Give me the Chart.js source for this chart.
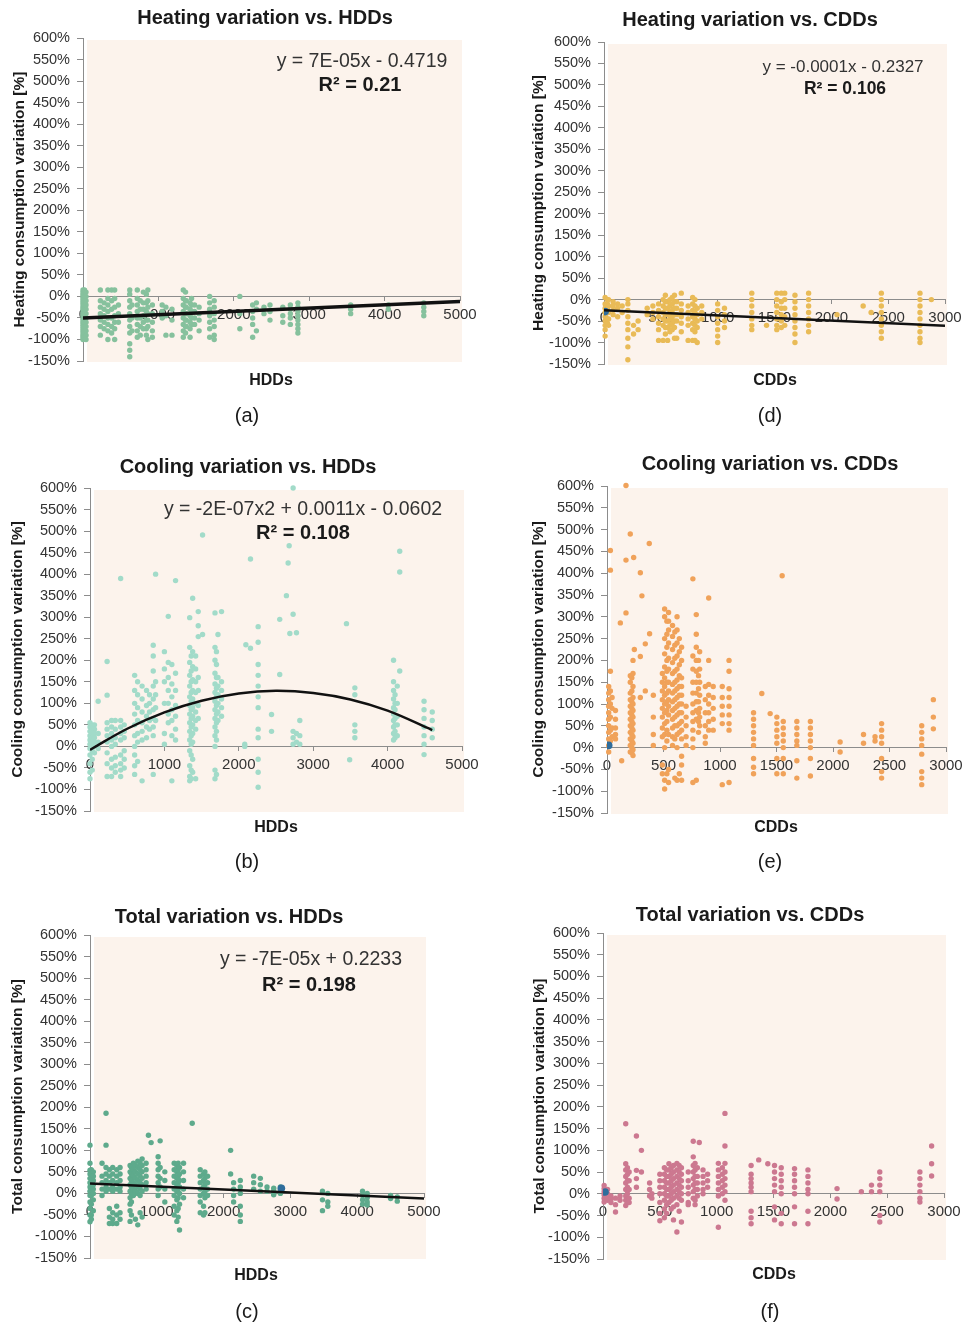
<!DOCTYPE html>
<html>
<head>
<meta charset="utf-8">
<script src="https://cdn.jsdelivr.net/npm/chart.js@4.4.1/dist/chart.umd.min.js"></script>
<style>
  body { margin: 0; background: #fff; width: 968px; height: 1326px; position: relative; overflow: hidden; }
  canvas { position: absolute; }
</style>
</head>
<body>
<script>
// Axis ticks
const pctTicks = [-150, -100, -50, 0, 50, 100, 150, 200, 250, 300, 350, 400, 450, 500, 550, 600];
const hddTicks = [0, 1000, 2000, 3000, 4000, 5000];
const cddTicks = [0, 500, 1000, 1500, 2000, 2500, 3000];

// (a) Heating variation vs. HDDs  -- each x has a column of y values [%]
const heatHddX = [0, 20, 40, 230, 280, 330, 380, 420, 470, 620, 650, 720, 760, 800, 840, 860, 920, 1050, 1100, 1180, 1330, 1360, 1370, 1420, 1440, 1480, 1540, 1680, 1740, 2080, 2250, 2300, 2400, 2480, 2650, 2750, 2850, 3550, 4050, 4520];
const heatHddY = [
  [15, 10, 5, 0, -5, -10, -15, -20, -25, -30, -35, -40, -45, -50, -55, -60, -65, -70, -75, -80, -85, -90, -95, -100],
  [15, 0, -20, -40, -60, -80, -95],
  [10, 0, -10, -20, -30, -40, -50, -60, -70, -80, -90, -100],
  [15, -10, -25, -40, -55, -70, -90],
  [-15, -30, -45, -60, -75],
  [15, -5, -20, -35, -50, -65, -80, -100],
  [15, -10, -30, -50, -70, -85],
  [15, -5, -25, -45, -60, -75, -100],
  [-20, -40, -60],
  [15, 5, -10, -25, -40, -55, -70, -85, -110, -125, -140],
  [-20, -50, -80],
  [15, -5, -20, -35, -50, -65, -80, -95],
  [-10, -30, -50, -70, -90],
  [10, -15, -30, -45, -60, -75],
  [5, -15, -35, -55, -75, -90],
  [15, -10, -25, -40, -55, -70, -100],
  [-20, -40, -60, -80, -95],
  [-20, -35, -50],
  [-25, -45, -90],
  [-30, -55, -90],
  [15, -5, -20, -35, -50, -65, -80, -95],
  [10, -10, -25, -40, -55, -70, -85],
  [-10, -25, -40, -55, -70],
  [-15, -30, -45, -60, -75, -95],
  [-5, -20, -35, -50, -65],
  [-20, -35, -50, -65],
  [-25, -40, -55, -80],
  [0, -15, -30, -45, -60, -75, -95],
  [-10, -25, -40, -55, -70, -90, -100],
  [0, -40, -75],
  [-20, -35, -50, -65, -95],
  [-15, -30, -80],
  [-25, -40],
  [-20, -35, -55],
  [-25, -45, -60],
  [-20, -30, -40, -50, -65],
  [-15, -25, -35, -45, -55, -65, -75, -85],
  [-20, -30, -40],
  [-20, -30],
  [-15, -25, -35, -45]
];
const heatHddFitX = [0, 5000];
const heatHddFitY = [-50, -12];

// (d) Heating variation vs. CDDs
const heatCddX = [10, 30, 40, 80, 120, 160, 210, 260, 300, 380, 430, 480, 520, 540, 560, 580, 600, 620, 640, 680, 740, 780, 800, 820, 860, 1000, 1060, 1300, 1430, 1520, 1560, 1590, 1680, 1800, 2050, 2280, 2350, 2440, 2780, 2880];
const heatCddY = [
  [5, -10, -20, -30, -40, -50, -60, -70, -85],
  [0, -10, -20, -30, -45, -55],
  [0, -15, -30, -45, -60],
  [-5, -15, -25, -35],
  [-10, -20, -40],
  [-15, -30],
  [0, -10, -25, -40, -55, -70, -90, -110, -140],
  [-60, -80],
  [-50, -70],
  [-20, -35],
  [-15, -30, -45],
  [-10, -25, -40, -55, -70, -95],
  [0, -15, -30, -45, -60, -95],
  [10, -5, -20, -35, -50, -65, -80],
  [-5, -20, -35, -50, -65, -95],
  [0, -15, -30, -45, -60, -75],
  [5, -10, -25, -40, -55, -70],
  [10, -5, -20, -35, -50, -65, -90],
  [-5, -20, -35, -50, -90],
  [15, -10, -25, -40, -55, -75],
  [-15, -30, -45, -60, -95],
  [5, -10, -25, -40, -55, -70, -95],
  [0, -15, -30, -45, -60, -75, -95],
  [-20, -35, -50, -65, -100],
  [-15, -30, -45],
  [-10, -25, -40, -55, -70, -85, -100],
  [-20, -35, -50, -65],
  [15, 0, -15, -30, -45, -60, -70],
  [-60],
  [15, 0, -15, -30, -45, -60, -70],
  [15, -5, -20, -35, -50, -65],
  [15, 0, -20, -40, -60],
  [10, -5, -20, -35, -50, -65, -80, -100],
  [15, 0, -15, -30, -45, -60, -75],
  [-35],
  [-15],
  [-30],
  [15, 0, -15, -30, -45, -60, -75, -90],
  [15, 0, -15, -30, -45, -60, -75, -90, -100],
  [0]
];
const heatCddMarkX = [10];
const heatCddMarkY = [-28];
const heatCddFitX = [0, 3000];
const heatCddFitY = [-25, -61];

// (b) Cooling variation vs. HDDs
const coolHddX = [0, 30, 60, 110, 230, 290, 340, 412, 460, 600, 640, 700, 760, 800, 850, 882, 1000, 1052, 1100, 1150, 1340, 1360, 1380, 1420, 1455, 1513, 1680, 1700, 1720, 1768, 2080, 2095, 2157, 2260, 2440, 2550, 2640, 2663, 2677, 2686, 2730, 2775, 2820, 3447, 3490, 3560, 4080, 4100, 4130, 4163, 4490, 4600];
const coolHddY = [
  [55, 45, 35, 25, 15, 5, -5, -20, -40, -60, -75],
  [50, 40, 30, 20, 10, 0, -10, -30, -55],
  [50, 40, 30, 20, 10, 0, -15],
  [105, 30, 10, -5],
  [197, 119, 55, 40, 25, 10, -15, -40, -70],
  [60, 45, 30, 15, 0, -30, -50, -70],
  [60, 40, 20, 5, -25, -45, -60],
  [390, 60, 45, 30, 15, -20, -40, -55, -70],
  [50, 35, 20, -10, -30, -50],
  [165, 130, 100, 75, 50, 25, 0, -20, -45, -65],
  [150, 120, 90, 60, 30, 10, -35],
  [140, 110, 80, 55, 35, 15, -80],
  [130, 95, 70, 45, 20],
  [120, 100, 80, 60, 40],
  [235, 210, 175, 140, 110, 85, 65, 45, 25, -65],
  [400, 150, 120, 90, 60],
  [220, 180, 150, 100, 30, 5],
  [302, 195, 160, 130, 100, 75, 55],
  [190, 145, 115, 85, 60, 25, -80],
  [385, 170, 130, 95, 70, 40, 15],
  [299, 230, 195, 165, 140, 115, 95, 75, 55, 35, 15, -10, -45, -70, -80],
  [210, 175, 150, 125, 105, 85, 65, 45, 25, 5, -20, -55, -75],
  [344, 220, 185, 155, 130, 110, 90, 70, 50, 30, 10, -30, -60],
  [210, 180, 150, 125, 100, 80, 60, 40, -75],
  [313, 280, 255, 160, 130, 95, 65],
  [491, 260],
  [310, 230, 200, 170, 145, 125, 105, 85, 65, 45, 25, 0, -55, -75],
  [220, 190, 160, 135, 115, 95, 75, 55, 35, 15, -65],
  [260, 160, 140, 120, 100, 80, 60],
  [313, 150, 130, 110, 90, 70],
  [5, 0],
  [236],
  [435, 228],
  [278, 242, 190, 165, 140, 115, 90, 40, 20, -30, -60, -95],
  [74, 35],
  [295, 167],
  [350],
  [426],
  [466],
  [262],
  [600, 307, 35, 20, 5],
  [264, 30, 10],
  [60, 25, 5],
  [285],
  [-31],
  [136, 120, 50, 35, 20],
  [200, 150, 130, 110, 90, 75, 60, 45, 30, 15],
  [120, 100, 85, 65, 50, 35, 20],
  [140, 100, 70, 50, 25],
  [453, 405, 175],
  [105, 85, 65, 45, 25, 5, -19],
  [80, 60, 40, 20]
];
const coolHddFitX = [0, 500, 1000, 1500, 2000, 2500, 3000, 3500, 4000, 4600];
const coolHddFitY = [-8, 41, 79, 106, 123, 129, 124, 109, 83, 38];

// (e) Cooling variation vs. CDDs
const coolCddX = [15, 30, 45, 75, 118, 130, 168, 206, 220, 230, 236, 242, 295, 309, 339, 374, 377, 410, 490, 510, 530, 545, 580, 600, 620, 640, 660, 700, 760, 790, 810, 820, 870, 900, 940, 1020, 1080, 1297, 1370, 1444, 1503, 1550, 1560, 1680, 1800, 2063, 2270, 2372, 2430, 2785, 2888];
const coolCddY = [
  [140, 125, 110, 95, 80, 65, 50, 35, 20, 5, -10],
  [452, 407, 175, 130, 100, 70, 40, 15],
  [115, 90, 45, 25],
  [85, 65, 45, 30, 20],
  [286],
  [-30],
  [601, 430, 309],
  [490, 165, 150, 125, 110, 95, 80, 65, 50, 35, 20, 5, -10],
  [160, 130, 105, 90, 75, 60, 45, 30, 15, 0, -12],
  [200, 170, 140, 115, 100, 85, 70, 55, 40, 25, 10, -5, -18],
  [436],
  [225],
  [401, 209, 115],
  [348],
  [238, 130],
  [468],
  [261],
  [120, 70, 30, 5],
  [170, 150, 130, 110, 90, 70, 45, 25, -40, -60],
  [318, 300, 250, 215, 185, 160, 140, 120, 100, 80, 55, 30, 0, -75, -95],
  [290, 260, 230, 200, 175, 150, 125, 105, 85, 60, 40, 15, -60],
  [310, 290, 270, 240, 205, 180, 150, 130, 110, 95, 75, 30, -50, -80],
  [280, 255, 225, 195, 170, 145, 125, 105, 85, 65, 45, 25, 5],
  [265, 235, 205, 175, 150, 130, 110, 90, 70, 50, 20, -70],
  [300, 270, 240, 210, 180, 155, 135, 115, 95, 75, 50, 30, 0, -75],
  [250, 220, 190, 165, 140, 120, 100, 80, 55, 35, -60],
  [230, 200, 160, 140, 120, 100, 80, 60, 40, 20, -20, -40, -75],
  [95, 70, 50, 25, 5],
  [387, 210, 180, 150, 125, 100, 80, 60, 40, 20, 0, -80],
  [305, 260, 230, 200, 175, 150, 125, 105, 85, 65, -75],
  [200, 165, 135, 105, 80, 60, 35],
  [220, 180, 150, 120, 90, 70, 50],
  [140, 110, 80, 50, 25, 10],
  [343, 200, 145, 120, 100, 80, 60, 40],
  [140, 115, 90, 65, 40],
  [140, 115, 95, 75, 55, -85],
  [200, 175, 135, 115, 95, 75, 55, 40, -80],
  [80, 65, 50, 35, 20, 5, -25, -45, -60],
  [124],
  [78],
  [70, 55, 40, 25, 10, -25, -60],
  [394],
  [60, 45, 30, 15, 0, -25, -60],
  [60, 45, 30, 15, 5, -30, -70],
  [60, 45, 30, 15, 0, -25, -65],
  [13, -10],
  [30, 10],
  [25, 15],
  [55, 40, 25, 10, -25, -55, -70],
  [50, 35, 20, 5, -15, -55, -70, -85],
  [110, 70, 43]
];
const coolCddMarkX = [15];
const coolCddMarkY = [5];

// (c) Total variation vs. HDDs
const totHddX = [0, 20, 50, 180, 240, 290, 340, 400, 450, 600, 620, 650, 680, 715, 750, 780, 840, 875, 915, 1020, 1050, 1120, 1260, 1300, 1320, 1340, 1400, 1530, 1650, 1700, 1720, 1760, 2105, 2150, 2250, 2450, 2550, 2650, 2750, 2850, 3480, 3560, 4080, 4150, 4500, 4600];
const totHddY = [
  [112, 70, 54, 45, 35, 25, 15, 5, -5, -20, -35, -50, -66],
  [55, 45, 35, 25, 15, 5, -5, -25, -50, -60],
  [50, 40, 30, 20, 10, 0, -15, -40],
  [70, 40, 25, 10, -5],
  [186, 112, 60, 45, 30, 15, 5],
  [55, 40, 25, 10, -35, -55, -70],
  [60, 45, 30, 15, 5, -45, -60, -70],
  [55, 40, 25, 10, -30, -50, -70],
  [60, 45, 30, 15, 5, -45, -60],
  [65, 50, 35, 20, 5, -10, -25, -40, -65],
  [60, 45, 30, 15, 0, -20, -50],
  [70, 55, 40, 25, 10, -5],
  [65, 50, 35, 20, 5, -60],
  [75, 60, 45, 30, 15, 0, -73],
  [70, 55, 40, 25, 10, -5, -45],
  [80, 65, 50, 35, 20, 5, -55],
  [70, 55, 40, 25, 10],
  [135],
  [118],
  [85, 70, 55, 40, 25, 10, -5],
  [122, 60, 35, 15],
  [50, 30, 10, -20],
  [70, 55, 40, 25, 10, -5, -30, -50],
  [65, 50, 35, 20, 5, -15, -40, -65],
  [70, 55, 40, 25, 10, -10, -35, -55],
  [60, 45, 30, 15, 0, -25, -85],
  [70, 50, 30, 10, -10],
  [163],
  [55, 40, 25, 10, -5, -20, -45],
  [45, 30, 15, 0, -30, -50],
  [50, 35, 20, 5, -10, -45],
  [40, 25, 10, -5],
  [100, 45],
  [25, 10, -5, -20],
  [30, 15, 0, -30, -50, -65],
  [40, 25, 10],
  [35, 20, 5],
  [15, 5],
  [12, 5, 0, -3],
  [15, 8, 0],
  [5, -15, -40],
  [0, -20, -30],
  [5, -5, -15, -25],
  [0, -10, -20, -27],
  [-5, -12],
  [-8, -18]
];
const totHddMarkX = [2865];
const totHddMarkY = [12];
const totHddFitX = [0, 5000];
const totHddFitY = [23, -12];

// (f) Total variation vs. CDDs
const totCddX = [10, 40, 70, 110, 150, 200, 215, 230, 294, 338, 410, 430, 500, 540, 560, 580, 600, 620, 650, 670, 690, 750, 794, 810, 830, 847, 880, 920, 1015, 1050, 1073, 1303, 1370, 1450, 1509, 1568, 1685, 1803, 2059, 2273, 2362, 2435, 2788, 2891];
const totCddY = [
  [19, 12, 5, -2, -10, -19],
  [10, 0, -8, -15],
  [-5, -12, -20],
  [-10, -25, -42],
  [-15, -5],
  [161, 69, 55, 40, 25, 10, -5, -15, -27],
  [60, 45, 30, 15, 0, -20],
  [50, 30, 10, -10, -20],
  [133, 54, 35, 15],
  [100, 50],
  [25, 10, -5],
  [0, -10],
  [45, 30, 15, 0, -20, -45, -62],
  [60, 45, 30, 15, 0, -15, -35, -55],
  [55, 40, 25, 10, -5, -25, -45],
  [69, 55, 40, 25, 10, -5, -20],
  [60, 45, 30, 15, 0, -15, -35],
  [65, 50, 35, 20, 5, -10, -30, -60],
  [70, 55, 40, 25, 10, -5, -25, -88],
  [65, 50, 35, 20, 5, -10, -40],
  [60, 45, 30, 15, 0, -15, -65],
  [50, 30, 15, 0, -20, -25],
  [121, 85, 65, 50, 35, 20, 5, -10],
  [70, 55, 40, 25, 10, -15, -25],
  [60, 40, 25, 10, -5],
  [118],
  [55, 40, 25, 10, 0],
  [45, 30, 15],
  [70, 55, 40, 25, 10, -5, -77],
  [60, 45, 30, 15, 0],
  [185, 110, 70, 50, 35, 20, 5, -15],
  [65, 45, 35, 25, 15, 5, -40, -55, -69],
  [78],
  [69],
  [65, 50, 35, 20, 5, -30, -60],
  [60, 45, 30, 15, 0, -45, -69],
  [58, 45, 30, 15, 0, -30, -69],
  [55, 40, 25, 10, 0, -40, -69],
  [12, -12],
  [5],
  [20, 5],
  [50, 35, 20, 5, -50, -65],
  [50, 35, 20, 5, -10, -19],
  [110, 69, 41]
];
const totCddMarkX = [18];
const totCddMarkY = [4];

const SANS = "'Liberation Sans', Arial, sans-serif";
const AXIS_GREY = '#8c8c8c';

function toPoints(xs, ys) {
  const pts = [];
  xs.forEach((x, i) => ys[i].forEach(y => pts.push({ x: x, y: y })));
  return pts;
}
function pairs(xs, ys) {
  return xs.map((x, i) => ({ x: x, y: ys[i] }));
}

// Panels: cell = [left, top, width, height] on the page; text positions are page coords
const panels = [
  { cell: [0, 0, 484, 440], pad: { left: 10, top: 38, right: 24, bottom: 79 }, yW: 73,
    title: 'Heating variation vs. HDDs', titleAt: [265, 18], yTitle: 'Heating consumption variation [%]',
    xTitle: 'HDDs', xTitleAt: [271, 381], caption: '(a)', captionAt: [247, 416],
    eq: ['y = 7E-05x - 0.4719', 'R\u00b2 = 0.21'], eqAt: [[362, 62], [360, 85]], eqSize: 19.5,
    xTicks: hddTicks, xs: heatHddX, ys: heatHddY, color: '#86c19d',
    fitX: heatHddFitX, fitY: heatHddFitY, fitWidth: 3.5, tension: 0 },
  { cell: [484, 0, 484, 440], pad: { left: 45, top: 42, right: 23, bottom: 76 }, yW: 75,
    title: 'Heating variation vs. CDDs', titleAt: [750, 20], yTitle: 'Heating consumption variation [%]',
    xTitle: 'CDDs', xTitleAt: [775, 381], caption: '(d)', captionAt: [770, 416],
    eq: ['y = -0.0001x - 0.2327', 'R\u00b2 = 0.106'], eqAt: [[843, 67], [845, 89]], eqSize: 17,
    xTicks: cddTicks, xs: heatCddX, ys: heatCddY, color: '#e9bb57',
    markX: heatCddMarkX, markY: heatCddMarkY,
    fitX: heatCddFitX, fitY: heatCddFitY, fitWidth: 2.5, tension: 0 },
  { cell: [0, 440, 484, 448], pad: { left: 8, top: 48, right: 22, bottom: 77 }, yW: 82,
    title: 'Cooling variation vs. HDDs', titleAt: [248, 467], yTitle: 'Cooling consumption variation [%]',
    xTitle: 'HDDs', xTitleAt: [276, 828], caption: '(b)', captionAt: [247, 862],
    eq: ['y = -2E-07x2 + 0.0011x - 0.0602', 'R\u00b2 = 0.108'], eqAt: [[303, 510], [303, 533]], eqSize: 19.5,
    xTicks: hddTicks, xs: coolHddX, ys: coolHddY, color: '#a2dbc9',
    fitX: coolHddFitX, fitY: coolHddFitY, fitWidth: 2.5, tension: 0.4 },
  { cell: [484, 440, 484, 448], pad: { left: 45, top: 46, right: 22, bottom: 75 }, yW: 78,
    title: 'Cooling variation vs. CDDs', titleAt: [770, 464], yTitle: 'Cooling consumption variation [%]',
    xTitle: 'CDDs', xTitleAt: [776, 828], caption: '(e)', captionAt: [770, 862],
    eq: null, xTicks: cddTicks, xs: coolCddX, ys: coolCddY, color: '#f0a25a',
    markX: coolCddMarkX, markY: coolCddMarkY },
  { cell: [0, 888, 484, 438], pad: { left: 8, top: 47, right: 60, bottom: 68 }, yW: 82,
    title: 'Total variation vs. HDDs', titleAt: [229, 917], yTitle: 'Total consumption variation [%]',
    xTitle: 'HDDs', xTitleAt: [256, 1276], caption: '(c)', captionAt: [247, 1312],
    eq: ['y = -7E-05x + 0.2233', 'R\u00b2 = 0.198'], eqAt: [[311, 960], [309, 985]], eqSize: 19.5,
    xTicks: hddTicks, xs: totHddX, ys: totHddY, color: '#5eaa8c',
    markX: totHddMarkX, markY: totHddMarkY,
    fitX: totHddFitX, fitY: totHddFitY, fitWidth: 2.5, tension: 0 },
  { cell: [484, 888, 484, 438], pad: { left: 46, top: 45, right: 24, bottom: 67 }, yW: 73,
    title: 'Total variation vs. CDDs', titleAt: [750, 915], yTitle: 'Total consumption variation [%]',
    xTitle: 'CDDs', xTitleAt: [774, 1275], caption: '(f)', captionAt: [770, 1312],
    eq: null, xTicks: cddTicks, xs: totCddX, ys: totCddY, color: '#cc7890',
    markX: totCddMarkX, markY: totCddMarkY }
];

// peach plot background
const plotBg = {
  id: 'plotBg',
  beforeDraw(chart) {
    const a = chart.chartArea, ctx = chart.ctx;
    ctx.save();
    ctx.fillStyle = '#fcf3ec';
    ctx.fillRect(a.left + 4, a.top + 2, a.right - a.left - 2, a.bottom - a.top - 1);
    ctx.restore();
  }
};

// titles, axis label, caption and the trend equation
const panelText = {
  id: 'panelText',
  afterDraw(chart, args, opts) {
    const p = opts.panel, ctx = chart.ctx;
    const ox = p.cell[0], oy = p.cell[1];
    ctx.save();
    ctx.textAlign = 'center';
    ctx.textBaseline = 'middle';
    ctx.fillStyle = '#1a1a1a';
    ctx.font = 'bold 20px ' + SANS;
    ctx.fillText(p.title, p.titleAt[0] - ox, p.titleAt[1] - oy);
    ctx.font = 'bold 16px ' + SANS;
    ctx.fillText(p.xTitle, p.xTitleAt[0] - ox, p.xTitleAt[1] - oy);
    ctx.font = '20px ' + SANS;
    ctx.fillText(p.caption, p.captionAt[0] - ox, p.captionAt[1] - oy);
    if (p.eq) {
      ctx.fillStyle = '#333';
      ctx.font = p.eqSize + 'px ' + SANS;
      ctx.fillText(p.eq[0], p.eqAt[0][0] - ox, p.eqAt[0][1] - oy);
      ctx.fillStyle = '#1a1a1a';
      ctx.font = 'bold ' + (p.eqSize + 0.5) + 'px ' + SANS;
      ctx.fillText(p.eq[1], p.eqAt[1][0] - ox, p.eqAt[1][1] - oy);
    }
    ctx.restore();
  }
};

function buildPanel(p) {
  const canvas = document.createElement('canvas');
  canvas.width = p.cell[2];
  canvas.height = p.cell[3];
  canvas.style.left = p.cell[0] + 'px';
  canvas.style.top = p.cell[1] + 'px';
  document.body.appendChild(canvas);

  const datasets = [];
  if (p.fitX) {
    datasets.push({
      label: 'trend', data: pairs(p.fitX, p.fitY), showLine: true,
      borderColor: '#111', borderWidth: p.fitWidth, pointRadius: 0, tension: p.tension, fill: false
    });
  }
  if (p.markX) {
    datasets.push({
      label: 'ref', data: pairs(p.markX, p.markY),
      pointBackgroundColor: '#2f6d9c', pointBorderWidth: 0, pointRadius: 3.8
    });
  }
  datasets.push({
    label: 'data', data: toPoints(p.xs, p.ys),
    pointBackgroundColor: p.color, pointBorderWidth: 0, pointRadius: 2.7, clip: false
  });

  new Chart(canvas, {
    type: 'scatter',
    data: { datasets: datasets },
    options: {
      responsive: false,
      animation: false,
      devicePixelRatio: 1,
      layout: { padding: p.pad },
      plugins: {
        legend: { display: false },
        tooltip: { enabled: false },
        panelText: { panel: p }
      },
      scales: {
        x: {
          type: 'linear',
          position: { y: 0 },
          min: p.xTicks[0],
          max: p.xTicks[p.xTicks.length - 1],
          z: 1,
          ticks: {
            stepSize: p.xTicks[1] - p.xTicks[0], autoSkip: false, maxRotation: 0, padding: 5,
            callback: v => String(v),
            color: '#333', font: { family: SANS, size: 15 }
          },
          grid: { drawOnChartArea: false, color: AXIS_GREY, tickLength: 4 },
          border: { color: AXIS_GREY }
        },
        y: {
          type: 'linear',
          position: 'left',
          min: pctTicks[0],
          max: pctTicks[pctTicks.length - 1],
          afterFit: scale => { scale.width = p.yW; },
          ticks: {
            stepSize: pctTicks[1] - pctTicks[0], autoSkip: false, padding: 7,
            callback: v => v + '%',
            color: '#333', font: { family: SANS, size: 14.5 }
          },
          grid: { drawOnChartArea: false, color: AXIS_GREY, tickLength: 6 },
          border: { color: AXIS_GREY },
          title: {
            display: true, text: p.yTitle, padding: 0, color: '#1a1a1a',
            font: { family: SANS, size: 15.5, weight: 'bold' }
          }
        }
      }
    },
    plugins: [plotBg, panelText]
  });
}

panels.forEach(buildPanel);
</script>
</body>
</html>
